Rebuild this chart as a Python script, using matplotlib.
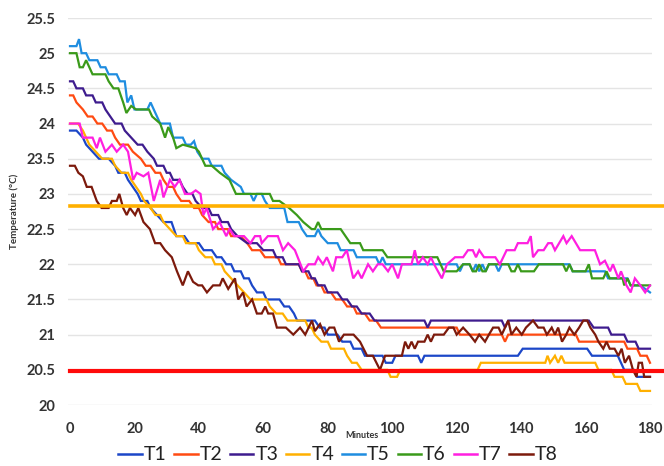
import matplotlib
matplotlib.use("Agg")
import matplotlib.pyplot as plt
from matplotlib.lines import Line2D

# ── Data (minutes, temperature in °C) ───────────────────────────────────────

SERIES_NAMES = ["T1", "T2", "T3", "T4", "T5", "T6", "T7", "T8"]

MIN_T1 = [0, 2, 4, 5, 7, 9, 12, 14, 15, 17, 18, 19.5, 21, 22, 24, 25, 27, 29, 31.5, 33, 35.5, 37,
          40, 41.5, 44, 45.5, 47, 48.5, 50, 51, 53, 54, 55.5, 56.5, 58, 60, 61, 65, 66.5, 68, 69.5,
          70.5, 76, 77.5, 79, 80, 83, 84.5, 87, 88, 90.5, 91.5, 97, 98, 100, 101, 108, 109, 110,
          139, 140.5, 160.5, 162, 170, 171, 172, 175, 176, 180]
TEMP_T1 = [23.9, 23.9, 23.8, 23.7, 23.6, 23.5, 23.5, 23.4, 23.3, 23.3, 23.2, 23.1, 23.0, 22.9, 22.9,
           22.8, 22.7, 22.6, 22.6, 22.4, 22.4, 22.3, 22.3, 22.2, 22.2, 22.1, 22.1, 22.0, 22.0, 21.9,
           21.9, 21.8, 21.8, 21.7, 21.6, 21.6, 21.5, 21.5, 21.4, 21.4, 21.3, 21.2, 21.2, 21.1, 21.1,
           21.0, 21.0, 20.9, 20.9, 20.8, 20.8, 20.7, 20.7, 20.6, 20.6, 20.7, 20.7, 20.6, 20.7,
           20.7, 20.8, 20.8, 20.7, 20.7, 20.6, 20.5, 20.5, 20.4, 20.4]

MIN_T2 = [0, 1, 2, 4, 5.5, 7, 8.5, 10, 11.5, 13, 14, 15.5, 18, 19.5, 22, 23.5, 25, 26.5, 28, 29,
          30.5, 32, 33, 34.5, 37, 38.5, 40, 41, 43, 45, 46, 49, 50, 53, 55, 56.5, 59, 60.5, 64.5,
          65.5, 71, 72, 73, 74, 75.5, 76.5, 78, 79, 81, 82.5, 84.5, 86, 88, 89, 91.5, 93, 95, 96.5,
          120, 121, 134, 135, 136, 157, 158, 172, 173, 176, 177, 179, 180]
TEMP_T2 = [24.4, 24.4, 24.3, 24.2, 24.1, 24.1, 24.0, 24.0, 23.9, 23.9, 23.8, 23.7, 23.7, 23.6, 23.5,
           23.4, 23.4, 23.3, 23.3, 23.2, 23.1, 23.1, 23.0, 22.9, 22.9, 22.8, 22.8, 22.7, 22.6, 22.6,
           22.5, 22.5, 22.4, 22.4, 22.3, 22.2, 22.2, 22.1, 22.1, 22.0, 22.0, 21.9, 21.9, 21.8, 21.8,
           21.7, 21.7, 21.6, 21.6, 21.5, 21.5, 21.4, 21.4, 21.3, 21.3, 21.2, 21.2, 21.1,
           21.1, 21.0, 21.0, 20.9, 21.0, 21.0, 20.9, 20.9, 20.8, 20.8, 20.7, 20.7, 20.6]

MIN_T3 = [0, 1, 2, 4, 5, 7, 8, 10, 11, 12.5, 14, 16, 17, 19, 21, 22.5, 24, 26, 27, 29, 30, 31, 32,
          34, 35, 36.5, 38, 39, 41, 43, 44, 46, 47, 49, 50, 52, 55, 58, 60, 63, 64, 66, 67, 71, 72,
          74, 75, 76, 77, 79, 80, 83, 84.5, 86, 87.5, 89, 90.5, 93, 94.5, 110, 111, 112, 134, 135,
          136, 161, 162.5, 167, 168, 172, 173, 175.5, 176.5, 180]
TEMP_T3 = [24.6, 24.6, 24.5, 24.5, 24.4, 24.4, 24.3, 24.3, 24.2, 24.1, 24.0, 24.0, 23.9, 23.8, 23.7,
           23.7, 23.6, 23.5, 23.4, 23.4, 23.3, 23.3, 23.2, 23.2, 23.1, 23.0, 23.0, 22.9, 22.8, 22.8,
           22.7, 22.7, 22.6, 22.6, 22.5, 22.4, 22.3, 22.3, 22.2, 22.2, 22.1, 22.1, 22.0, 22.0, 21.9,
           21.9, 21.8, 21.8, 21.7, 21.7, 21.6, 21.6, 21.5, 21.5, 21.4, 21.4, 21.3, 21.3, 21.2, 21.2,
           21.1, 21.2, 21.2, 21.1, 21.2, 21.2, 21.1, 21.1, 21.0, 21.0, 20.9, 20.9, 20.8, 20.8]

MIN_T4 = [0, 2.5, 4, 5, 6, 8, 10, 13, 14, 16, 18, 19, 20.5, 22, 23, 25, 26.5, 28, 29, 31, 33, 35,
          36, 39, 40, 42, 44, 45, 47, 48, 50, 52, 54, 56, 61, 62, 64, 66, 67.5, 73, 74, 75, 76, 78,
          80, 81, 85, 86, 87.5, 89, 90.5, 98.5, 99.5, 101.5, 102.5, 126.5, 127.5, 147.5, 148.2, 149,
          150.5, 151.5, 152.5, 153.5, 163, 164, 168, 169, 171.5, 172.5, 176, 177, 180]
TEMP_T4 = [24.0, 24.0, 23.9, 23.8, 23.7, 23.6, 23.5, 23.5, 23.4, 23.3, 23.3, 23.2, 23.1, 23.0, 22.9,
           22.8, 22.7, 22.7, 22.6, 22.5, 22.4, 22.4, 22.3, 22.3, 22.2, 22.1, 22.1, 22.0, 22.0, 21.9,
           21.8, 21.7, 21.6, 21.5, 21.5, 21.4, 21.3, 21.3, 21.2, 21.2, 21.1, 21.1, 21.0, 20.9, 20.9,
           20.8, 20.8, 20.7, 20.6, 20.6, 20.5, 20.5, 20.4, 20.4, 20.5, 20.5, 20.6, 20.6, 20.7, 20.6,
           20.7, 20.6, 20.7, 20.6, 20.6, 20.5, 20.5, 20.4, 20.4, 20.3, 20.3, 20.2, 20.2]

MIN_T5 = [0, 2, 2.8, 3.6, 5, 6, 8.5, 9.5, 11, 12, 14.5, 15.5, 17, 17.8, 19, 20, 24, 25, 26, 27, 28,
          31, 32, 35, 36, 37.5, 38.5, 39.5, 41, 43, 44, 47, 48, 50, 53, 54, 56, 57, 58, 59.5, 60.5,
          62, 66.5, 67.5, 71, 72, 73.5, 76, 77, 78, 80, 83, 84, 88, 89, 95, 96, 97, 98, 120, 121,
          122, 124, 125, 126, 127, 128, 129, 130, 132, 133, 134, 155, 156, 166, 167, 173, 174, 177,
          180]
TEMP_T5 = [25.1, 25.1, 25.2, 25.0, 25.0, 24.9, 24.9, 24.8, 24.8, 24.7, 24.7, 24.6, 24.6, 24.3, 24.4,
           24.2, 24.2, 24.3, 24.2, 24.1, 24.0, 24.0, 23.8, 23.8, 23.7, 23.7, 23.75, 23.6, 23.5, 23.5,
           23.4, 23.4, 23.3, 23.2, 23.1, 23.0, 23.0, 22.9, 23.0, 23.0, 22.9, 22.8, 22.8, 22.6, 22.6,
           22.5, 22.4, 22.4, 22.5, 22.4, 22.3, 22.3, 22.2, 22.2, 22.1, 22.1, 22.0, 22.1, 22.0, 22.0,
           21.9, 22.0, 22.0, 21.9, 22.0, 21.9, 22.0, 21.9, 22.0, 22.0, 21.9, 22.0, 22.0, 21.9, 21.9,
           21.8, 21.8, 21.7, 21.7, 21.6]

MIN_T6 = [0, 2, 3, 4, 5, 6, 7, 11, 12, 13.5, 15, 16.5, 17.5, 19, 20.5, 24.5, 25.5, 28, 29.5, 30.5,
          32, 33, 35, 39, 40, 42, 44, 46.5, 49.5, 51.5, 62, 63, 65, 68, 70.4, 72.4, 75, 76, 77, 78,
          84, 85.5, 87, 90, 91, 97, 98.5, 114, 115, 116, 120, 122, 124, 125, 126, 127, 128, 129, 130,
          136, 137, 138, 139, 140, 144, 145.5, 153, 154, 155, 156, 160, 161, 162, 165.5, 166.5,
          167.5, 171.5, 172, 173, 174, 180]
TEMP_T6 = [25.0, 25.0, 24.8, 24.8, 24.9, 24.8, 24.7, 24.7, 24.6, 24.5, 24.5, 24.3, 24.15, 24.25,
           24.2, 24.2, 24.1, 24.0, 23.8, 23.95, 23.8, 23.65, 23.7, 23.65, 23.6, 23.4, 23.4, 23.3,
           23.2, 23.0, 23.0, 22.9, 22.9, 22.8, 22.7, 22.6, 22.5, 22.5, 22.6, 22.5, 22.5, 22.4, 22.3,
           22.3, 22.2, 22.2, 22.1, 22.1, 22.0, 21.9, 21.9, 22.0, 22.0, 21.9, 21.9, 22.0, 21.9, 21.9,
           22.0, 22.0, 21.9, 21.9, 22.0, 21.9, 21.9, 22.0, 22.0, 21.9, 22.0, 21.9, 21.9, 22.0, 21.8,
           21.8, 21.9, 21.8, 21.8, 21.7, 21.8, 21.7, 21.7]

MIN_T7 = [0, 3, 4, 7, 8.3, 9.3, 11, 13, 14.5, 16.5, 18, 19.6, 20.7, 22.8, 24.3, 26, 28, 29, 31,
          32.5, 34, 35.7, 37.5, 39, 40.5, 41.4, 42.4, 44.4, 46.4, 48.5, 49.5, 51, 54, 56, 57.4, 59,
          59.5, 61.4, 64.5, 66.1, 67.7, 69.8, 72.4, 74, 76, 77, 78.5, 79.7, 81.6, 82.6, 84.5, 85.9,
          87.9, 89.4, 90.5, 92.5, 94, 95.5, 97, 98.7, 100, 101.8, 103, 106, 107, 108, 109.5, 111,
          112, 113, 115.4, 117, 119.5, 122, 123.5, 125, 126, 127, 128.5, 132, 133.4, 135.5, 138,
          139, 142, 143, 143.7, 145.3, 147, 148.4, 149.5, 150.5, 153.1, 154.1, 155.7, 158.3, 162.9,
          164.5, 166, 167.6, 168.5, 170.2, 171, 172.7, 174, 175.3, 177, 178.5, 180]
TEMP_T7 = [24.0, 24.0, 23.8, 23.8, 23.65, 23.8, 23.6, 23.7, 23.6, 23.7, 23.6, 23.2, 23.3, 23.25,
           23.3, 22.9, 23.2, 22.95, 23.2, 23.1, 23.2, 23.0, 23.0, 23.05, 23.0, 22.7, 22.8, 22.5,
           22.6, 22.4, 22.5, 22.4, 22.4, 22.3, 22.4, 22.4, 22.3, 22.4, 22.4, 22.2, 22.3, 22.2, 21.9,
           22.0, 22.0, 22.1, 22.0, 22.1, 21.9, 22.1, 22.1, 22.2, 21.8, 21.9, 21.8, 22.0, 21.9, 22.0,
           22.0, 21.9, 22.0, 21.8, 22.0, 22.0, 22.2, 22.0, 22.1, 22.0, 22.1, 22.0, 21.8, 22.0, 22.1,
           22.1, 22.2, 22.2, 22.1, 22.2, 22.1, 22.1, 22.0, 22.2, 22.2, 22.3, 22.3, 22.4, 22.1, 22.2,
           22.2, 22.3, 22.3, 22.2, 22.4, 22.3, 22.4, 22.2, 22.2, 22.0, 22.05, 21.9, 22.0, 21.8, 21.9,
           21.7, 21.6, 21.8, 21.7, 21.6, 21.7]

MIN_T8 = [0, 1.5, 2.6, 4, 5.2, 6.7, 8.3, 9.8, 12, 13, 14.5, 15.3, 16.5, 17.6, 18.6, 20.2, 21.2,
          22.8, 24.8, 26.4, 28, 29.5, 31.6, 33.2, 35, 36.6, 38.2, 39.8, 41, 42.5, 44.4, 46.5, 47.4,
          49.1, 51.2, 52.2, 53.7, 54.8, 56.5, 58, 59.5, 60.6, 61.5, 63, 64.2, 67, 69.3, 71.4, 73,
          75.1, 76, 77.6, 79, 80.5, 82, 83.5, 85, 88, 90, 92.2, 94, 96.2, 97.8, 103, 104, 105, 106,
          107, 108, 110, 111, 112, 113, 116, 117.6, 119, 120, 122, 124, 125.7, 127, 128.8, 130,
          131.3, 133, 134, 135, 136, 137, 138.5, 140.2, 141.5, 143.7, 145.3, 147, 148, 149.5, 150.5,
          151.5, 152.7, 154, 155, 156.5, 158, 159.3, 160.5, 161.5, 163, 164, 165.5, 166.5, 167.5,
          169, 170.2, 171.2, 172.2, 173.5, 174.7, 175.8, 176.5, 177.5, 178.2, 180]
TEMP_T8 = [23.4, 23.4, 23.3, 23.25, 23.1, 23.1, 22.9, 22.8, 22.8, 22.9, 22.9, 23.0, 22.8, 22.7,
           22.8, 22.7, 22.8, 22.6, 22.5, 22.3, 22.3, 22.2, 22.1, 21.9, 21.7, 21.9, 21.75, 21.7, 21.7,
           21.6, 21.7, 21.7, 21.8, 21.65, 21.8, 21.5, 21.6, 21.4, 21.5, 21.3, 21.3, 21.4, 21.3, 21.3,
           21.1, 21.1, 21.0, 21.1, 21.0, 21.2, 21.05, 21.15, 21.0, 21.1, 21.1, 20.9, 21.0, 21.0,
           20.9, 20.7, 20.7, 20.5, 20.7, 20.7, 20.9, 20.8, 20.9, 20.8, 20.9, 20.9, 21.0, 20.9, 21.0,
           21.0, 21.1, 21.1, 21.0, 21.1, 21.0, 20.9, 21.0, 20.9, 21.0, 21.1, 21.1, 21.0, 21.1, 21.2,
           21.0, 21.1, 21.0, 21.1, 21.2, 21.1, 21.1, 21.0, 21.1, 21.0, 21.1, 20.9, 21.0, 21.1, 21.0,
           21.1, 21.2, 21.2, 21.1, 21.0, 20.9, 20.8, 20.9, 20.8, 20.8, 20.7, 20.8, 20.6, 20.7, 20.5,
           20.4, 20.6, 20.6, 20.4, 20.4]

# Horizontal reference levels (°C)
UPPER_LIMIT = 22.83
LOWER_LIMIT = 20.48

X_TICKS = [0, 20, 40, 60, 80, 100, 120, 140, 160, 180]
Y_TICKS = [20, 20.5, 21, 21.5, 22, 22.5, 23, 23.5, 24, 24.5, 25, 25.5]

# ── Style ───────────────────────────────────────────────────────────────────

_STYLE = {
    "colors": ["#1C47C8", "#FF4B12", "#3E1C8E", "#FFB000",
               "#1F8DE0", "#3A9A1A", "#FF1FE0", "#7C1A0C"],
    "upper_color": "#FFB000",
    "lower_color": "#FF0A0A",
    "grid_color": "#E4E4E4",
    "text_color": "#333333",
    "font": "Lato",
    "line_width": 1.6,
    "dpi": 100,
    "fig_width": 6.64,
    "fig_height": 4.66,
}


def _tick_label(value):
    return f"{value:g}"


def _style_axes(ax):
    for spine in ax.spines.values():
        spine.set_visible(False)
    ax.set_xlim(-0.62, 180.62)
    ax.set_ylim(20, 25.5)
    ax.set_xticks(X_TICKS)
    ax.set_xticklabels([_tick_label(v) for v in X_TICKS])
    ax.set_yticks(Y_TICKS)
    ax.set_yticklabels([_tick_label(v) for v in Y_TICKS])
    ax.tick_params(length=0, labelsize=10.5, colors=_STYLE["text_color"])
    ax.tick_params(axis="x", pad=12.5)
    ax.tick_params(axis="y", pad=9)
    for label in ax.get_xticklabels() + ax.get_yticklabels():
        label.set_fontweight("bold")
        label.set_fontfamily(_STYLE["font"])
    ax.yaxis.grid(True, color=_STYLE["grid_color"], linewidth=1.0)
    ax.set_axisbelow(True)


fig = plt.figure(figsize=(_STYLE["fig_width"], _STYLE["fig_height"]), dpi=_STYLE["dpi"])
ax = fig.add_axes([68 / 664, 1 - 405 / 466, 584 / 664, 387 / 466])
_style_axes(ax)

series = [
    (MIN_T1, TEMP_T1), (MIN_T2, TEMP_T2), (MIN_T3, TEMP_T3), (MIN_T4, TEMP_T4),
    (MIN_T5, TEMP_T5), (MIN_T6, TEMP_T6), (MIN_T7, TEMP_T7), (MIN_T8, TEMP_T8),
]
for (minutes, temps), color in zip(series, _STYLE["colors"]):
    ax.plot(minutes, temps, color=color, linewidth=_STYLE["line_width"],
            solid_joinstyle="miter")

# the two limit lines run past the plot area up to the figure edge
xmin_frac = (0 - ax.get_xlim()[0]) / (ax.get_xlim()[1] - ax.get_xlim()[0])
ax.axhline(UPPER_LIMIT, xmin=xmin_frac, xmax=1.03, color=_STYLE["upper_color"],
           linewidth=2.6, clip_on=False)
ax.axhline(LOWER_LIMIT, xmin=xmin_frac, xmax=1.03, color=_STYLE["lower_color"],
           linewidth=3.0, clip_on=False)

fig.text(14 / 664, 1 - 211 / 466, "Temperature (°C)", rotation=90, ha="center", va="center",
         fontsize=7, fontweight="bold", color=_STYLE["text_color"], family=_STYLE["font"])
fig.text(362 / 664, 1 - 435 / 466, "Minutes", ha="center", va="center",
         fontsize=6.5, fontweight="bold", color=_STYLE["text_color"], family=_STYLE["font"])

handles = [Line2D([], [], color=c, linewidth=1.8) for c in _STYLE["colors"]]
legend = fig.legend(handles, SERIES_NAMES, loc="center", bbox_to_anchor=(0.509, 1 - 455 / 466),
                    ncol=8, frameon=False, handlelength=1.2, handletextpad=0.1,
                    columnspacing=0.4, borderaxespad=0,
                    prop={"family": _STYLE["font"], "size": 14})
for text in legend.get_texts():
    text.set_color("#222222")

fig.savefig("out.png", dpi=_STYLE["dpi"], facecolor="white")
plt.close(fig)
